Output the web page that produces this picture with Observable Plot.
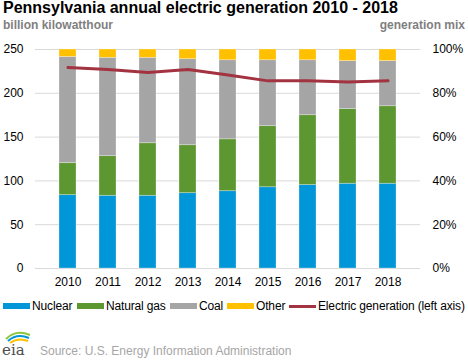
<!DOCTYPE html>
<html>
<head>
<meta charset="utf-8">
<script src="https://cdn.jsdelivr.net/npm/d3@7"></script>
<script src="https://cdn.jsdelivr.net/npm/@observablehq/plot@0.6"></script>
<style>
  body { margin: 0; width: 468px; height: 360px; background: #fff; font-family: "Liberation Sans", Arial, sans-serif; position: relative; overflow: hidden; }
  .abs { position: absolute; white-space: nowrap; }
  #title { left: 3px; top: 0px; font-size: 16px; line-height: 16px; font-weight: bold; color: #000; }
  .unit { top: 18px; font-size: 12px; line-height: 14px; font-weight: bold; color: #7f7f7f; }
  #chart { position: absolute; left: 0; top: 36px; }
  .lgtext { top: 299px; font-size: 12px; line-height: 14px; color: #000; letter-spacing: -0.15px; }
  .sw { position: absolute; width: 27px; }
  #source { left: 40px; top: 344px; font-size: 12px; line-height: 14px; color: #a6a6a6; }
  #logo { position: absolute; left: 0px; top: 326px; }
</style>
</head>
<body>
<div id="title" class="abs">Pennsylvania annual electric generation 2010 - 2018</div>
<div class="abs unit" style="left:3px">billion kilowatthour</div>
<div class="abs unit" style="right:3px">generation mix</div>
<div id="chart"></div>
<div id="legend"></div>
<svg id="logo" width="38" height="32" viewBox="0 0 38 32">
  <path d="M6 13 Q16 3 30 9" fill="none" stroke="#8cc63f" stroke-width="2"/>
  <path d="M8 15 Q17 7 29 12" fill="none" stroke="#0096d7" stroke-width="2"/>
  <path d="M10 17 Q18 11 28 15" fill="none" stroke="#ffc000" stroke-width="2"/>
  <text x="2" y="29" font-family="DejaVu Serif, serif" font-size="15" fill="#4d4d4d">eia</text>
</svg>
<div id="source" class="abs">Source: U.S. Energy Information Administration</div>
<script>
const years = ["2010","2011","2012","2013","2014","2015","2016","2017","2018"];
const sources = ["Nuclear","Natural gas","Coal","Other"];
// generation mix, percent of total
const nuclearShare = [33.5, 33.2, 33.2, 34.4, 35.3, 37.1, 38.1, 38.7, 38.7];
const gasShare     = [14.6, 18.1, 24.0, 21.9, 23.7, 27.9, 31.9, 34.1, 35.4];
const coalShare    = [48.5, 44.9, 39.0, 39.3, 36.1, 30.1, 25.1, 21.9, 20.6];
const otherShare   = [3.4, 3.8, 3.8, 4.4, 4.9, 4.9, 4.9, 5.3, 5.3];
// electric generation, billion kWh (left axis)
const generation   = [229.4, 227.1, 223.7, 227.1, 221.0, 214.2, 214.2, 213.0, 214.2];
const lineLabel = "Electric generation (left axis)";
const leftTicks  = [0, 50, 100, 150, 200, 250];
const rightTicks = ["0%", "20%", "40%", "60%", "80%", "100%"];
const colors = ["#0096d7", "#5d9732", "#a5a5a5", "#ffc000"];
const lineColor = "#a33340";

const leftMax = leftTicks[leftTicks.length - 1];
const shares = [nuclearShare, gasShare, coalShare, otherShare];
const barData = [];
sources.forEach((s, si) => years.forEach((y, i) => {
  barData.push({year: y, source: s, value: shares[si][i] * leftMax / 100});
}));
const lineData = years.map((y, i) => ({year: y, value: generation[i]}));

const plot = Plot.plot({
  width: 468,
  height: 260,
  marginTop: 13,
  marginBottom: 28,
  marginLeft: 35,
  marginRight: 48,
  style: {fontFamily: "Liberation Sans, Arial, sans-serif", fontSize: "12px", color: "#000", background: "transparent"},
  x: {domain: years, padding: 0.565, label: null},
  y: {domain: [0, leftMax], label: null},
  color: {domain: sources, range: colors},
  marks: [
    Plot.ruleY(leftTicks, {stroke: "#d9d9d9", strokeWidth: 1}),
    Plot.barY(barData, {x: "year", y: "value", fill: "source", stroke: "#ffffff", strokeOpacity: 0.35, strokeWidth: 0.8}),
    Plot.line(lineData, {x: "year", y: "value", stroke: lineColor, strokeWidth: 3}),
    Plot.axisX({tickSize: 0, tickPadding: 9, fontSize: 12, fill: "#000"}),
    Plot.axisY({anchor: "left", ticks: leftTicks, tickSize: 0, tickPadding: 12, tickFormat: d => String(d), fill: "#000"}),
    Plot.axisY({anchor: "right", ticks: leftTicks, tickSize: 0, tickPadding: 12, tickFormat: d => rightTicks[leftTicks.indexOf(d)], fill: "#000"})
  ]
});
document.getElementById("chart").appendChild(plot);

// legend (positions follow the reference layout)
const legend = document.getElementById("legend");
const swX = [3, 77, 170, 227, 289];
const txtX = [32, 106, 199, 256, 318];
const labels = [...sources, lineLabel];
const swColors = [...colors, lineColor];
labels.forEach((lab, i) => {
  const sw = document.createElement("div");
  sw.className = "sw";
  const h = i === 4 ? 3 : 6;
  sw.style.cssText = `left:${swX[i]}px;top:${306 - h / 2}px;height:${h}px;background:${swColors[i]}`;
  legend.appendChild(sw);
  const t = document.createElement("div");
  t.className = "abs lgtext";
  t.style.left = txtX[i] + "px";
  t.textContent = lab;
  legend.appendChild(t);
});
</script>
</body>
</html>
